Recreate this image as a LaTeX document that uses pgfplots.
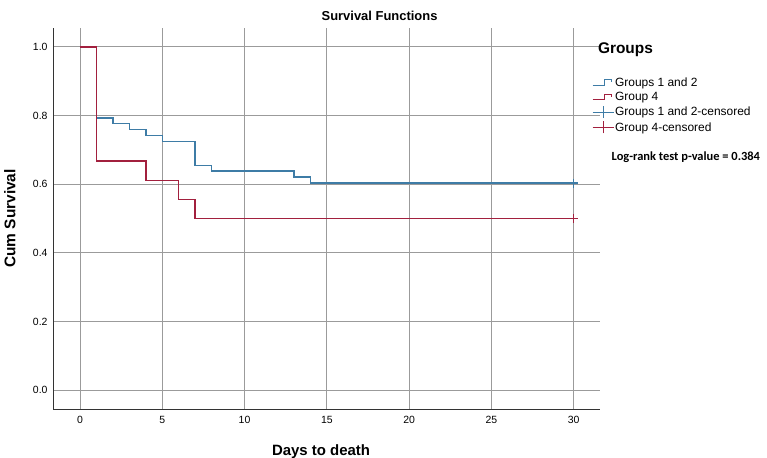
\documentclass[border=0pt]{standalone}
\usepackage{pgfplots}
\pgfplotsset{compat=1.18}
\usepackage{fontspec}
\setmainfont{Liberation Sans}
\newfontfamily\carlito{Carlito}
\definecolor{gblue}{RGB}{62,124,166}
\definecolor{gred}{RGB}{162,32,62}
\definecolor{gridgray}{RGB}{155,155,155}
\begin{document}
\begin{tikzpicture}
\path[use as bounding box] (-53bp,-49bp) rectangle (714bp,409bp);
\begin{axis}[
  at={(0,0)}, anchor=south west,
  scale only axis, width=547bp, height=381bp,
  xmin=-1.64, xmax=31.6, ymin=-0.055, ymax=1.055,
  clip=false,
  axis x line*=bottom, axis y line*=left,
  axis line style={black!80, line width=1pt},
  xtick={0,5,...,30}, ytick={0,0.2,...,1.0},
  major tick length=0pt,
  grid=major, grid style={gridgray, line width=0.9pt},
  /pgf/number format/assume math mode=true,
  ticklabel style={font=\fontsize{10.5}{12}\selectfont},
  yticklabel style={xshift=-2bp, /pgf/number format/.cd, fixed, fixed zerofill, precision=1},
  xticklabel style={yshift=-4bp},
  title={\bfseries Survival Functions},
  title style={at={(axis description cs:0.597,1.015)}, anchor=center, font=\fontsize{13}{15}\selectfont},
  xlabel={\bfseries Days to death},
  ylabel={\bfseries Cum Survival},
  xlabel style={at={(axis description cs:0.49,-0.113)}, anchor=center, font=\fontsize{15}{17}\selectfont},
  ylabel style={at={(axis description cs:-0.079,0.5)}, anchor=center, font=\fontsize{15.5}{17}\selectfont},
  legend style={draw=none, fill=none, at={(axis description cs:0.985,0.8725)}, anchor=north west,
    font=\fontsize{12}{13}\selectfont, row sep=2.3bp, inner sep=0pt,
    nodes={inner sep=1pt, anchor=west}},
  legend cell align=left,
]
\addplot[const plot, gblue, line width=1.4pt,
  legend image code/.code={\path[draw=none, fill=none] (0bp,-6bp) rectangle (1bp,6bp); \draw[gblue, line width=1.1pt] (0bp,-2.5bp) -- (12bp,-2.5bp) -- (12bp,3bp) -- (19bp,3bp) -- (19bp,0.5bp);}]
  coordinates {(0,1) (1,0.793) (2,0.776) (3,0.759) (4,0.741) (5,0.724) (7,0.655) (8,0.638) (13,0.621) (14,0.603) (30,0.603)};
\addlegendentry{Groups 1 and 2}
\addplot[const plot, gred, line width=1.4pt,
  legend image code/.code={\path[draw=none, fill=none] (0bp,-6bp) rectangle (1bp,6bp); \draw[gred, line width=1.1pt] (0bp,-2.5bp) -- (12bp,-2.5bp) -- (12bp,3bp) -- (19bp,3bp) -- (19bp,0.5bp);}]
  coordinates {(0,1) (1,0.667) (4,0.611) (6,0.556) (7,0.5) (30,0.5)};
\addlegendentry{Group 4}
\addplot[only marks, mark=+, mark size=4.5bp, gblue, mark options={line width=1.4pt},
  legend image code/.code={\draw[gblue, line width=1.1pt] (0bp,0bp) -- (21bp,0bp); \draw[gblue, line width=1.1pt] (10.5bp,-6bp) -- (10.5bp,6bp);}]
  coordinates {(30,0.603)};
\addlegendentry{Groups 1 and 2-censored}
\addplot[only marks, mark=+, mark size=4.5bp, gred, mark options={line width=1.4pt},
  legend image code/.code={\draw[gred, line width=1.1pt] (0bp,0bp) -- (21bp,0bp); \draw[gred, line width=1.1pt] (10.5bp,-6bp) -- (10.5bp,6bp);}]
  coordinates {(30,0.5)};
\addlegendentry{Group 4-censored}
\node[anchor=west, font=\fontsize{15.5}{17}\selectfont\bfseries, inner sep=0pt] at (axis description cs:0.996,0.944) {Groups};
\node[anchor=west, font=\fontsize{12.5}{14}\selectfont\carlito\bfseries, inner sep=0pt] at (axis description cs:1.021,0.662) {Log-rank test p-value = 0.384};
\end{axis}
\end{tikzpicture}
\end{document}
